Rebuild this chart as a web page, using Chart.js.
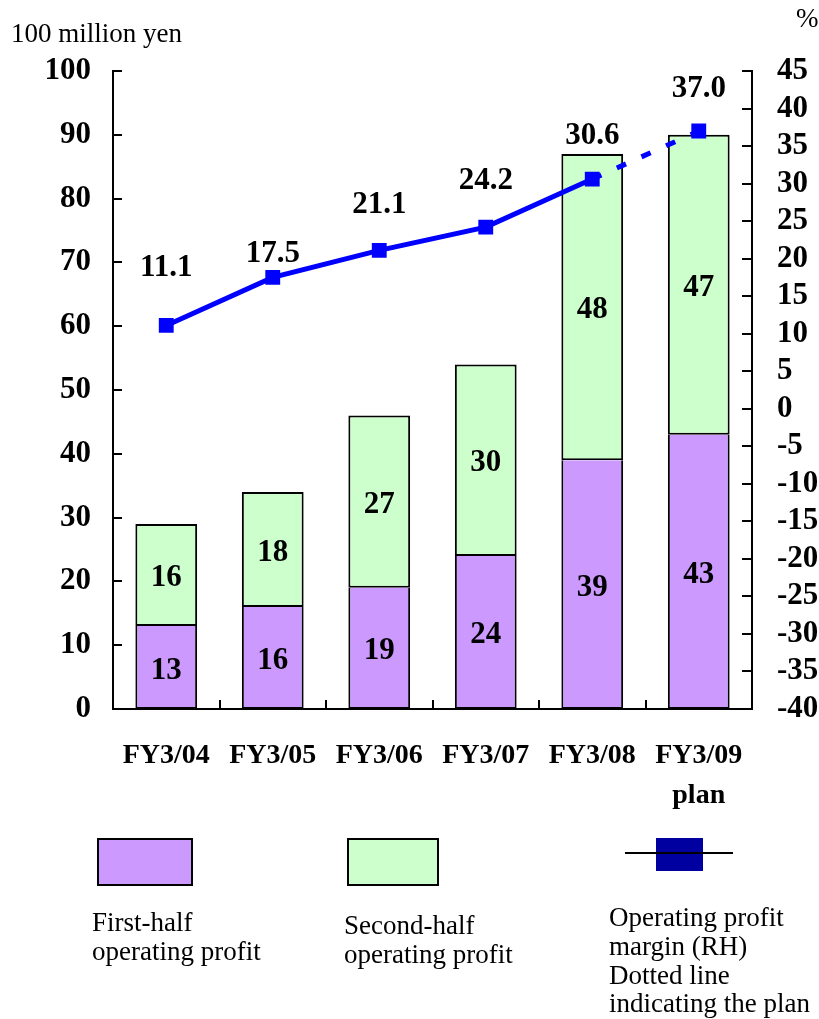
<!DOCTYPE html>
<html>
<head>
<meta charset="utf-8">
<script src="https://cdn.jsdelivr.net/npm/chart.js@4"></script>
<style>
  body { margin: 0; background: #fff; }
  #wrap { position: relative; width: 819px; height: 1019px; font-family: 'Liberation Serif', 'Times New Roman', serif; color: #000; }
  #wrap canvas { position: absolute; left: 0; top: 0; }
  .txt { position: absolute; font-size: 27px; line-height: 29px; white-space: nowrap; }
  .box { position: absolute; border: 2px solid #000; box-sizing: border-box; }
</style>
</head>
<body>
<div id="wrap">
  <canvas id="ch" width="819" height="1019"></canvas>
  <div class="txt" style="left:11px; top:19px;">100 million yen</div>
  <div class="txt" style="left:796px; top:4px;">%</div>

  <div class="box" style="left:97px; top:838px; width:96px; height:48px; background:#CC99FF;"></div>
  <div class="box" style="left:347px; top:838px; width:92px; height:48px; background:#CCFFCC;"></div>
  <div style="position:absolute; left:656px; top:838px; width:47px; height:33px; background:#0000A0;"></div>
  <div style="position:absolute; left:625px; top:852px; width:108px; height:2px; background:#000;"></div>

  <div class="txt" style="left:92px; top:908px;">First-half<br>operating profit</div>
  <div class="txt" style="left:344px; top:911px;">Second-half<br>operating profit</div>
  <div class="txt" style="left:609px; top:903px;">Operating profit<br>margin (RH)</div>
  <div class="txt" style="left:609px; top:961px; line-height:28px;">Dotted line<br>indicating the plan</div>
</div>
<script>
const years = ['FY3/04', 'FY3/05', 'FY3/06', 'FY3/07', 'FY3/08', ['FY3/09', 'plan']];
const firstHalf = [13, 16, 19, 24, 39, 43];
const secondHalf = [16, 18, 27, 30, 48, 47];
const margin = [11.1, 17.5, 21.1, 24.2, 30.6, 37.0];

const serif = "'Liberation Serif', 'Times New Roman', serif";
const boldBig = { family: serif, size: 31, weight: 'bold' };

// inward tick marks on all three axes
const tickMarks = {
  id: 'tickMarks',
  afterDraw(chart) {
    const { ctx, chartArea: a, scales } = chart;
    ctx.save();
    ctx.strokeStyle = '#000';
    ctx.lineWidth = 2;
    ctx.beginPath();
    scales.y.ticks.forEach(t => {
      const p = Math.round(scales.y.getPixelForValue(t.value));
      ctx.moveTo(a.left, p); ctx.lineTo(a.left + 9, p);
    });
    scales.y1.ticks.forEach(t => {
      const p = Math.round(scales.y1.getPixelForValue(t.value));
      ctx.moveTo(a.right, p); ctx.lineTo(a.right - 10, p);
    });
    const w = (a.right - a.left) / years.length;
    for (let k = 1; k < years.length; k++) {
      const x = Math.round(a.left + k * w);
      ctx.moveTo(x, a.bottom); ctx.lineTo(x, a.bottom - 9);
    }
    ctx.stroke();
    ctx.restore();
  }
};

// numbers inside the bars and above the margin points
const valueLabels = {
  id: 'valueLabels',
  afterDatasetsDraw(chart) {
    const { ctx } = chart;
    ctx.save();
    ctx.font = 'bold 31px ' + serif;
    ctx.fillStyle = '#000';
    ctx.textAlign = 'center';
    ctx.textBaseline = 'middle';
    [0, 1].forEach(di => {
      chart.getDatasetMeta(di).data.forEach((bar, i) => {
        const v = chart.data.datasets[di].data[i];
        ctx.fillText(v, bar.x, (bar.y + bar.base) / 2 + 3);
      });
    });
    const lift = [57, 23, 45, 46, 43, 42];
    chart.getDatasetMeta(2).data.forEach((pt, i) => {
      ctx.fillText(margin[i].toFixed(1), pt.x, pt.y - lift[i]);
    });
    ctx.restore();
  }
};

new Chart(document.getElementById('ch'), {
  data: {
    labels: years,
    datasets: [
      { type: 'bar', label: 'First-half operating profit', data: firstHalf, yAxisID: 'y', order: 2,
        backgroundColor: '#CC99FF', borderColor: '#000', borderWidth: 2, borderSkipped: 'top',
        barPercentage: 0.58, categoryPercentage: 1 },
      { type: 'bar', label: 'Second-half operating profit', data: secondHalf, yAxisID: 'y', order: 2,
        backgroundColor: '#CCFFCC', borderColor: '#000', borderWidth: 2, borderSkipped: false,
        barPercentage: 0.58, categoryPercentage: 1 },
      { type: 'line', label: 'Operating profit margin (RH)', data: margin, yAxisID: 'y1', order: 0,
        borderColor: '#0000FF', borderWidth: 5, pointStyle: 'rect', pointRadius: 10.5,
        pointBackgroundColor: '#0000FF', pointBorderWidth: 0,
        segment: { borderDash: c => c.p1DataIndex === 5 ? [10, 17] : undefined } }
    ]
  },
  options: {
    responsive: false,
    animation: false,
    layout: { padding: { top: 71, left: 0, right: 0, bottom: 0 } },
    plugins: { legend: { display: false }, tooltip: { enabled: false } },
    scales: {
      x: {
        stacked: true,
        grid: { display: false, drawTicks: false },
        border: { display: true, color: '#000', width: 2 },
        ticks: { color: '#000', font: { family: serif, size: 28, weight: 'bold', lineHeight: 1.42 }, padding: 27, maxRotation: 0 },
        afterFit: s => { s.height = 310; }
      },
      y: {
        stacked: true, position: 'left', min: 0, max: 100,
        grid: { display: false, drawTicks: false },
        border: { display: true, color: '#000', width: 2 },
        ticks: { stepSize: 10, autoSkip: false, color: '#000', font: boldBig, padding: 22 },
        afterFit: s => { s.width = 113; }
      },
      y1: {
        position: 'right', min: -40, max: 45,
        grid: { display: false, drawTicks: false },
        border: { display: true, color: '#000', width: 2 },
        ticks: { stepSize: 5, autoSkip: false, color: '#000', font: boldBig, padding: 25 },
        afterFit: s => { s.width = 67; }
      }
    }
  },
  plugins: [tickMarks, valueLabels]
});
</script>
</body>
</html>
